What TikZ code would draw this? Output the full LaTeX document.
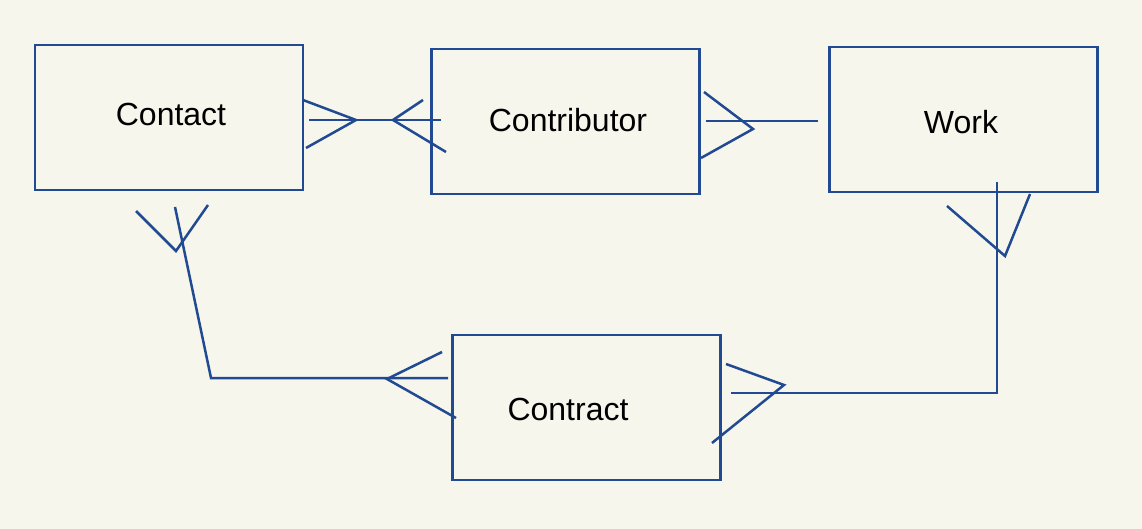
\documentclass[tikz,border=0pt]{standalone}
\usepackage{fontspec}
\setmainfont{Liberation Sans}
\definecolor{bg}{RGB}{247,246,236}
\definecolor{ink}{RGB}{33,74,146}
\begin{document}
\begin{tikzpicture}[x=1pt,y=-1pt,
  entity/.style={draw=ink,line width=2.5pt,rectangle,minimum width=268pt,minimum height=145pt,inner sep=0pt},
  etext/.style={font=\fontsize{32}{38}\selectfont,text=black,inner sep=0pt},
  rel/.style={draw=ink,line width=2.5pt,line join=miter}]
\fill[bg] (0,0) rectangle (1142,529);
\useasboundingbox (0,0) rectangle (1142,529);
% entities
\node[entity] (contact) at (169,117.5) {};
\node[entity] (contributor) at (565.5,121.5) {};
\node[entity] (work) at (963.5,119.5) {};
\node[entity] (contract) at (586.5,407.5) {};
\node[etext] (contactL) at (171,114) {Contact};
\node[etext] (contributorL) at (568,120) {Contributor};
\node[etext] (workL) at (961,122) {Work};
\node[etext] (contractL) at (568,409) {Contract};
% Contact -- Contributor
\coordinate (a1) at (309,120);
\coordinate (a2) at (441,120);
\draw[rel] (a1) -- (a2);
\draw[rel] (303,100) -- (356,120) -- (306,148);
\draw[rel] (423,100) -- (393,120) -- (446,152);
% Contributor -- Work
\coordinate (b1) at (706,121);
\coordinate (b2) at (818,121);
\draw[rel] (b1) -- (b2);
\draw[rel] (704,92) -- (753,129) -- (701,158);
% Contact -- Contract
\coordinate (c1) at (175,207);
\coordinate (c2) at (211,378);
\coordinate (c3) at (448,378);
\draw[rel] (c1) -- (c2) -- (c3);
\draw[rel] (136,211) -- (176,251) -- (208,205);
\draw[rel] (442,352) -- (387,379) -- (456,418);
% Work -- Contract
\coordinate (d1) at (997,182);
\coordinate (d2) at (997,393);
\coordinate (d3) at (731,393);
\draw[rel] (d1) -- (d2) -- (d3);
\draw[rel] (947,206) -- (1005,256) -- (1030,194);
\draw[rel] (726,364) -- (784,385) -- (712,443);
\end{tikzpicture}
\end{document}
